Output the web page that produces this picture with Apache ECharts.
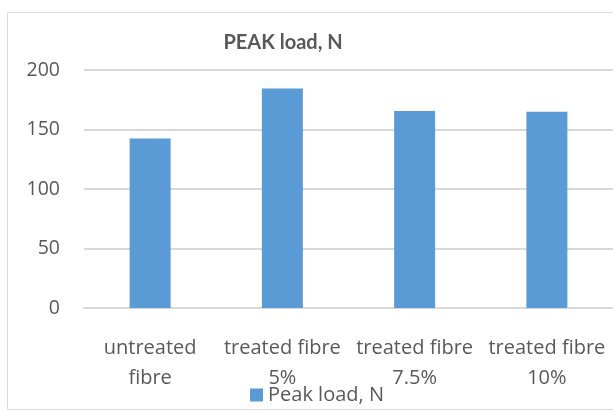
<!DOCTYPE html>
<html>
<head>
<meta charset="utf-8">
<script src="https://cdn.jsdelivr.net/npm/echarts@6/dist/echarts.min.js"></script>
<style>
  html, body { margin: 0; padding: 0; background: #fff; }
  #chart { width: 613px; height: 412px; }
</style>
</head>
<body>
<div id="chart"></div>
<script>
// values
var categories = ['untreated\nfibre', 'treated fibre\n5%', 'treated fibre\n7.5%', 'treated fibre\n10%'];
var peakLoad = [142.5, 184.5, 165.5, 165];
var seriesName = 'Peak load, N';

var chart = echarts.init(document.getElementById('chart'));
var textColor = '#595959';
var labelFont = '"Open Sans", sans-serif';

var option = {
    animation: false,
    backgroundColor: '#fff',
    graphic: [{
        type: 'rect',
        shape: { x: 7.5, y: 12.5, width: 640, height: 397 },
        style: { fill: 'none', stroke: '#D9D9D9', lineWidth: 1 },
        silent: true
    }],
    title: {
        text: 'PEAK load, N',
        left: 278,
        top: 28,
        textAlign: 'center',
        textStyle: { color: textColor, fontSize: 20, fontWeight: 'bold', fontFamily: 'Lato, sans-serif' }
    },
    legend: {
        data: [seriesName],
        left: 245,
        top: 380,
        itemWidth: 13,
        itemHeight: 13,
        itemGap: 5,
        icon: 'rect',
        textStyle: { color: textColor, fontSize: 20, fontFamily: labelFont }
    },
    grid: { left: 84, right: -3, top: 70, bottom: 104 },
    xAxis: {
        type: 'category',
        data: categories,
        axisLine: { show: true, lineStyle: { color: '#D9D9D9', width: 2 } },
        axisTick: { show: false },
        axisLabel: {
            color: textColor, fontSize: 20, fontFamily: labelFont,
            lineHeight: 30, margin: 25, interval: 0
        }
    },
    yAxis: {
        type: 'value',
        min: 0,
        max: 200,
        interval: 50,
        axisLine: { show: false },
        axisTick: { show: false },
        axisLabel: { color: textColor, fontSize: 19.5, fontFamily: labelFont, margin: 24 },
        splitLine: { lineStyle: { color: '#D9D9D9', width: 2 } }
    },
    series: [{
        name: seriesName,
        type: 'bar',
        data: peakLoad,
        barWidth: 41,
        itemStyle: { color: '#5B9BD5' }
    }]
};

chart.setOption(option);
</script>
</body>
</html>
